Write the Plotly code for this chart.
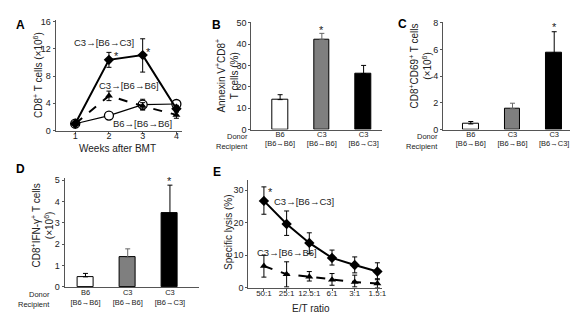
import plotly.graph_objects as go

W, H = 578, 314
def fx(p): return p / W
def fy(p): return 1 - p / H

FONT = "Arial, Liberation Sans, Helvetica, sans-serif"
AX = "#555555"

# ---- Panel A data ----
weeks = [1, 2, 3, 4]
a_c3c3 = [1.0, 10.4, 11.1, 3.2]
a_c3c3_ep = [0.2, 1.1, 2.4, 0.5]
a_c3c3_em = [0.2, 1.1, 2.5, 0.5]
a_c3b6 = [1.0, 5.1, 3.6, 2.3]
a_c3b6_e = [0.2, 0.7, 0.5, 0.5]
a_b6b6 = [1.0, 2.2, 3.8, 3.9]
a_b6b6_e = [0.2, 0.3, 0.8, 0.4]

# ---- Bar panels ----
bar_labels = ["B6<br>[B6→B6]", "C3<br>[B6→B6]", "C3<br>[B6→C3]"]
bar_colors = ["white", "#7f7f7f", "black"]
b_vals = [14.0, 42.2, 26.2]
b_err = [2.3, 2.8, 3.8]
c_vals = [0.42, 1.55, 5.72]
c_err = [0.18, 0.42, 1.6]
d_vals = [0.47, 1.38, 3.43]
d_err = [0.16, 0.40, 1.33]

# ---- Panel E data ----
et_labels = ["50:1", "25:1", "12.5:1", "6:1", "3:1", "1.5:1"]
e_c3c3 = [26.7, 19.6, 13.8, 9.2, 7.0, 5.0]
e_c3c3_ep = [4.3, 4.0, 3.1, 2.4, 2.5, 2.7]
e_c3c3_em = [4.1, 3.5, 3.3, 2.2, 2.4, 2.5]
e_c3b6 = [6.7, 4.2, 3.4, 2.5, 1.8, 1.3]
e_c3b6_ep = [3.3, 3.8, 1.6, 1.9, 2.1, 1.5]
e_c3b6_em = [3.4, 3.9, 1.3, 1.7, 1.5, 1.3]

fig = go.Figure()

def err(p, m=None, color="black"):
    d = dict(type="data", array=p, color=color, thickness=1, width=2.5)
    if m is not None:
        d.update(symmetric=False, arrayminus=m)
    return d

# Panel A traces
fig.add_trace(go.Scatter(x=weeks, y=a_b6b6, mode="lines+markers", xaxis="x", yaxis="y",
    line=dict(color="black", width=1.2),
    marker=dict(symbol="circle", size=9, color="white", line=dict(color="black", width=1.3)),
    error_y=err(a_b6b6_e), cliponaxis=False, showlegend=False))
fig.add_trace(go.Scatter(x=weeks, y=a_c3b6, mode="lines+markers", xaxis="x", yaxis="y",
    line=dict(color="black", width=2, dash="dash"),
    marker=dict(symbol="triangle-up", size=7, color="black"),
    error_y=err(a_c3b6_e), cliponaxis=False, showlegend=False))
fig.add_trace(go.Scatter(x=weeks, y=a_c3c3, mode="lines+markers", xaxis="x", yaxis="y",
    line=dict(color="black", width=2),
    marker=dict(symbol="diamond", size=8, color="black"),
    error_y=err(a_c3c3_ep, a_c3c3_em), cliponaxis=False, showlegend=False))

# Bar panels
for vals, errs, xa, ya in [(b_vals, b_err, "x2", "y2"), (c_vals, c_err, "x3", "y3"), (d_vals, d_err, "x4", "y4")]:
    for i in range(3):
        fig.add_trace(go.Bar(x=[i], y=[vals[i]], xaxis=xa, yaxis=ya, width=0.38,
            marker=dict(color=bar_colors[i], line=dict(color="black", width=1)),
            error_y=dict(type="data", symmetric=False, array=[errs[i]], arrayminus=[0],
                         color="#666666" if i == 1 else "black", thickness=1, width=2.5),
            showlegend=False))

# Panel E traces
ex = list(range(len(et_labels)))
fig.add_trace(go.Scatter(x=ex, y=e_c3b6, mode="lines+markers", xaxis="x5", yaxis="y5",
    line=dict(color="black", width=2, dash="dash"),
    marker=dict(symbol="triangle-up", size=7, color="black"),
    error_y=err(e_c3b6_ep, e_c3b6_em), cliponaxis=False, showlegend=False))
fig.add_trace(go.Scatter(x=ex, y=e_c3c3, mode="lines+markers", xaxis="x5", yaxis="y5",
    line=dict(color="black", width=2),
    marker=dict(symbol="diamond", size=8, color="black"),
    error_y=err(e_c3c3_ep, e_c3c3_em), cliponaxis=False, showlegend=False))

base_ax = dict(showline=True, linecolor=AX, linewidth=1, ticks="outside", ticklen=2,
               tickcolor=AX, showgrid=False, zeroline=False, tickfont=dict(size=9, color="#222"),
               fixedrange=True)

def xax(dom, rng, **kw):
    d = dict(base_ax); d.update(domain=[fx(dom[0]), fx(dom[1])], range=rng); d.update(kw); return d
def yax(dom, rng, anchor, **kw):
    d = dict(base_ax); d.update(domain=[fy(dom[1]), fy(dom[0])], range=rng, anchor=anchor); d.update(kw); return d

barfont = dict(size=7.5, color="#222")
fig.update_layout(
    width=W, height=H, margin=dict(l=0, r=0, t=0, b=0),
    paper_bgcolor="white", plot_bgcolor="white",
    font=dict(family=FONT, color="#222"),
    bargap=0,
    xaxis=xax((48, 175), [0.42, 4.16], anchor="y", tickvals=weeks, tickangle=0, ticklabelstandoff=-5),
    yaxis=yax((8, 122), [0, 16.3], "x", tickvals=[0, 4, 8, 12, 16]),
    xaxis2=xax((245, 377), [-0.69, 2.45], anchor="y2", ticks="", tickvals=[0, 1, 2], tickangle=0,
               ticktext=bar_labels, tickfont=barfont, ticklabelstandoff=-3),
    yaxis2=yax((10, 121), [0, 50.45], "x2", tickvals=[0, 10, 20, 30, 40, 50]),
    xaxis3=xax((438, 575), [-0.667, 2.595], anchor="y3", ticks="", tickvals=[0, 1, 2], tickangle=0,
               ticktext=bar_labels, tickfont=barfont, ticklabelstandoff=-3),
    yaxis3=yax((10, 121), [0, 8.07], "x3", tickvals=[0, 2, 4, 6, 8]),
    xaxis4=xax((57, 192), [-0.494, 2.68], anchor="y4", ticks="", tickvals=[0, 1, 2], tickangle=0,
               ticktext=bar_labels, tickfont=barfont, ticklabelstandoff=-2),
    yaxis4=yax((171, 283), [0, 5.09], "x4", tickvals=[0, 1, 2, 3, 4, 5]),
    xaxis5=xax((242, 377), [-0.687, 5.22], anchor="y5", tickvals=ex, ticktext=et_labels, tickangle=0,
               tickfont=dict(size=8, color="#222"), ticklabelstandoff=-4),
    yaxis5=yax((173, 284), [0, 33.1], "x5", tickvals=[0, 10, 20, 30]),
)

ann = []
def A(text, x, y, xref="paper", yref="paper", size=10, bold=False, xanchor="center", yanchor="middle", angle=0):
    ann.append(dict(text=f"<b>{text}</b>" if bold else text, x=x, y=y, xref=xref, yref=yref,
                    showarrow=False, font=dict(size=size, color="black" if bold else "#222"),
                    xanchor=xanchor, yanchor=yanchor, textangle=angle, borderpad=0))

# panel letters
for t, x, y in [("A", 13, 13), ("B", 210, 13), ("C", 397, 12), ("D", 13, 162), ("E", 210, 165)]:
    A(t, fx(x), fy(y), size=12, bold=True)

# axis titles
A("CD8<sup>+</sup> T cells (×10<sup>6</sup>)", fx(30), fy(65), angle=-90)
A("Annexin V<sup>+</sup>CD8<sup>+</sup><br>T cells (%)", fx(220), fy(65), angle=-90)
A("CD8<sup>+</sup>CD69<sup>+</sup> T cells<br>(×10<sup>6</sup>)", fx(415), fy(56), angle=-90)
A("CD8<sup>+</sup>IFN-γ<sup>+</sup> T cells<br>(×10<sup>6</sup>)", fx(35), fy(220), angle=-90)
A("Specific lysis (%)", fx(222), fy(226), angle=-90)
A("Weeks after BMT", fx(110), fy(141))
A("E/T ratio", fx(305), fy(305))

# series labels A
A("C3→[B6→C3]", 1.86, 12.9, "x", "y", size=9.5)
A("C3→[B6→B6]", 2.6, 6.6, "x", "y", size=9.5)
A("B6→[B6→B6]", 3.0, 1.1, "x", "y", size=9.5)
A("*", 2.22, 11.0, "x", "y", size=11)
A("*", 3.17, 11.6, "x", "y", size=11)
# stars bars
A("*", 1, b_vals[1] + b_err[1] + 1.8, "x2", "y2", size=11)
A("*", 2, c_vals[2] + c_err[2] + 0.35, "x3", "y3", size=11)
A("*", 2, d_vals[2] + d_err[2] + 0.2, "x4", "y4", size=11)
# E labels
A("C3→[B6→C3]", 1.75, 26.5, "x5", "y5", size=9.5)
A("C3→[B6→B6]", 1.0, 10.8, "x5", "y5", size=9.5)
A("*", 0.3, 29.5, "x5", "y5", size=11)

# Donor / Recipient row labels
for xr, yd in [(243, 128.5), (434, 128.5), (43, 291)]:
    A("Donor", fx(xr), fy(yd), size=7.5, xanchor="right")
    A("Recipient", fx(xr), fy(yd + 10), size=7.5, xanchor="right")

fig.update_layout(annotations=ann)
fig.write_html("out.html")
